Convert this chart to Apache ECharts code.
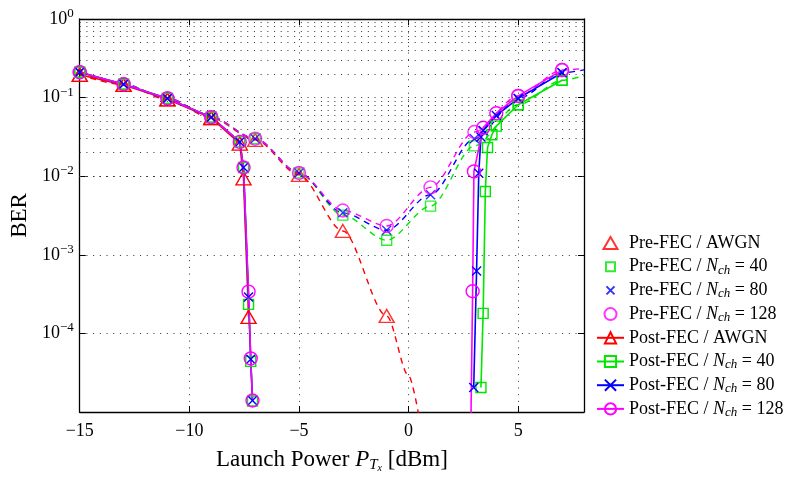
<!DOCTYPE html>
<html>
<head>
<meta charset="utf-8">
<script src="https://cdn.jsdelivr.net/npm/echarts@6/dist/echarts.min.js"></script>
<style>
  html, body { margin: 0; padding: 0; background: #fff; }
  #chart { width: 787px; height: 478px; }
</style>
</head>
<body>
<div id="chart"></div>
<script>
// ---- measured BER values ----
// Pre-FEC samples (markers) at these launch powers [dBm]
const preX    = [-15, -13, -11, -9, -7, -5, -3, -1, 1, 3, 5, 7];
const preAwgn = [0.195, 0.145, 0.095, 0.055, 0.029, 0.0104, 0.00201, 0.000167];
const pre40   = [0.21, 0.148, 0.0977, 0.0564, 0.030, 0.011, 0.0032, 0.00153, 0.00416, 0.0243, 0.081, 0.166];
const pre80   = [0.21, 0.148, 0.0977, 0.0564, 0.030, 0.011, 0.00342, 0.00205, 0.00582, 0.030, 0.0977, 0.207];
const pre128  = [0.21, 0.148, 0.0977, 0.0564, 0.030, 0.011, 0.00366, 0.00233, 0.00721, 0.0365, 0.105, 0.224];

// analytical pre-FEC curves continue past the last sample
const fitAwgnTailX = [0, 0.5];
const fitAwgnTail  = [2.9e-5, 8e-6];
const fitTailX     = [8];
const fit40Tail    = [0.19];
const fit80Tail    = [0.225];
const fit128Tail   = [0.235];

// Post-FEC: low-power waterfall and high-power waterfall
const postAwgnX = [-15, -13, -11, -9, -7.7, -7.53, -7.3];
const postAwgn  = [0.195, 0.145, 0.095, 0.055, 0.026, 0.0094, 0.000162];

const postLowX  = [-15, -13, -11, -9, -7.7, -7.53, -7.3, -7.2, -7.12];
const post40Low = [0.21, 0.148, 0.0977, 0.0564, 0.0273, 0.0129, 0.000234, 4.4e-5, 1.38e-5];
const post80Low = [0.21, 0.148, 0.0977, 0.0564, 0.0273, 0.0129, 0.00029, 4.7e-5, 1.4e-5];
const post128Low = [0.21, 0.148, 0.0977, 0.0564, 0.0273, 0.0129, 0.00034, 4.8e-5, 1.4e-5];

const post40HighX  = [3.3, 3.4, 3.5, 3.6, 3.8, 4, 5, 7];
const post40High   = [2.05e-5, 0.00018, 0.0064, 0.0232, 0.0337, 0.0434, 0.081, 0.166];
const post80HighX  = [2.97, 3.1, 3.2, 3.3, 3.4, 4, 5, 7];
const post80High   = [2.05e-5, 0.00062, 0.0109, 0.0316, 0.0382, 0.059, 0.0977, 0.207];
const post128HighX = [2.8, 2.92, 2.98, 3.4, 4, 5, 7];
const post128High  = [1e-6, 0.000344, 0.0115, 0.0413, 0.0633, 0.105, 0.224];

// axis ticks
const xTicks = { min: -15, max: 8, interval: 5 };
const yRange = { min: 1e-5, max: 1 };
const minorMantissas = [2, 3, 4, 5, 6, 7, 8, 9];
const minorDecades = [-5, -4, -3, -2, -1];

// ---- styling ----
const FONT = '"Liberation Serif", "Times New Roman", serif';
const RED = '#ff0000', GREEN = '#00e600', BLUE = '#0000ff', MAGENTA = '#ff00ff';
const CROSS = 'path://M0,0L10,10M10,0L0,10';
const DOTS = [1, 5.7];

const pairs = (xs, ys) => xs.map((x, i) => [x, ys[i]]);
const GAP = [['-', '-']];

const minorGrid = [];
minorDecades.forEach(d => minorMantissas.forEach(m => minorGrid.push({ yAxis: m * Math.pow(10, d) })));

function fitLine(color, data) {
  return {
    type: 'line', data, smooth: 0.3, smoothMonotone: 'x',
    symbol: 'none', silent: true, z: 2,
    lineStyle: { color, width: 1.4, type: [6, 5] },
    emphasis: { disabled: true }
  };
}
function markers(name, color, symbol, size, data) {
  return {
    name, type: 'scatter', data, symbol, symbolSize: size, z: 3,
    itemStyle: { color: 'transparent', borderColor: color, borderWidth: 1.4 },
    emphasis: { disabled: true }
  };
}
function curve(name, color, symbol, size, data) {
  return {
    name, type: 'line', data, symbol, symbolSize: size, showAllSymbol: true, z: 4,
    lineStyle: { color, width: 1.6 },
    itemStyle: { color: 'transparent', borderColor: color, borderWidth: 1.4 },
    emphasis: { disabled: true }
  };
}

const series = [
  {
    name: 'minor-grid', type: 'line', data: [], silent: true, z: 1,
    markLine: {
      silent: true, symbol: ['none', 'none'], label: { show: false },
      lineStyle: { color: '#333', width: 1, type: DOTS },
      emphasis: { disabled: true }, animation: false,
      data: minorGrid
    }
  },
  fitLine(RED, pairs(preX.slice(0, preAwgn.length), preAwgn).concat(pairs(fitAwgnTailX, fitAwgnTail))),
  fitLine(GREEN, pairs(preX, pre40).concat(pairs(fitTailX, fit40Tail))),
  fitLine(BLUE, pairs(preX, pre80).concat(pairs(fitTailX, fit80Tail))),
  fitLine(MAGENTA, pairs(preX, pre128).concat(pairs(fitTailX, fit128Tail))),

  markers('Pre-FEC / AWGN', RED, 'triangle', [15, 13], pairs(preX.slice(0, preAwgn.length), preAwgn)),
  markers('Pre-FEC / N_ch = 40', GREEN, 'rect', 10, pairs(preX, pre40)),
  markers('Pre-FEC / N_ch = 80', BLUE, CROSS, 9, pairs(preX, pre80)),
  markers('Pre-FEC / N_ch = 128', MAGENTA, 'circle', 13, pairs(preX, pre128)),

  curve('Post-FEC / AWGN', RED, 'triangle', [15, 13], pairs(postAwgnX, postAwgn)),
  curve('Post-FEC / N_ch = 40', GREEN, 'rect', 10,
        pairs(postLowX, post40Low).concat(GAP, pairs(post40HighX, post40High))),
  curve('Post-FEC / N_ch = 80', BLUE, CROSS, 9,
        pairs(postLowX, post80Low).concat(GAP, pairs(post80HighX, post80High))),
  curve('Post-FEC / N_ch = 128', MAGENTA, 'circle', 13,
        pairs(postLowX, post128Low).concat(GAP, pairs(post128HighX, post128High)))
];

const axisLine = { show: true, onZero: false, lineStyle: { color: '#000', width: 1.3 } };
const axisTick = { show: true, inside: true, length: 6, lineStyle: { color: '#000', width: 1 } };
const dotted = { show: true, lineStyle: { color: '#333', width: 1, type: DOTS } };
const minus = v => String(v).replace('-', '\u2212');

const option = {
  animation: false,
  backgroundColor: '#fff',
  grid: { left: 79, top: 19, right: 203, bottom: 62 },
  xAxis: [
    {
      type: 'value', min: xTicks.min, max: xTicks.max, interval: xTicks.interval,
      axisLine, axisTick, splitLine: dotted,
      axisLabel: { showMaxLabel: false, margin: 10, color: '#000', fontFamily: FONT, fontSize: 18, formatter: minus },
      name: 'Launch Power {i|P}{sub|T}{ss|x} [dBm]', nameLocation: 'middle', nameGap: 35,
      nameTextStyle: {
        fontFamily: FONT, fontSize: 23, color: '#000', lineHeight: 26,
        rich: {
          i:   { fontFamily: FONT, fontSize: 23, fontStyle: 'italic', color: '#000', lineHeight: 26 },
          sub: { fontFamily: FONT, fontSize: 15, fontStyle: 'italic', color: '#000', lineHeight: 15, verticalAlign: 'bottom' },
          ss:  { fontFamily: FONT, fontSize: 10, fontStyle: 'italic', color: '#000', lineHeight: 9, verticalAlign: 'bottom' }
        }
      }
    },
    {
      type: 'value', position: 'top', min: xTicks.min, max: xTicks.max, interval: xTicks.interval,
      axisLine, axisTick, axisLabel: { show: false }, splitLine: { show: false }
    }
  ],
  yAxis: [
    {
      type: 'log', logBase: 10, min: yRange.min, max: yRange.max,
      axisLine, axisTick, splitLine: dotted,
      axisLabel: {
        showMinLabel: false, margin: 6, color: '#000', fontFamily: FONT, fontSize: 18,
        formatter: v => '{b|10}{s|' + minus(Math.round(Math.log10(v))) + '}',
        rich: {
          b: { fontFamily: FONT, fontSize: 18, color: '#000', lineHeight: 24 },
          s: { fontFamily: FONT, fontSize: 13, color: '#000', lineHeight: 13, verticalAlign: 'top' }
        }
      },
      name: 'BER', nameLocation: 'middle', nameGap: 45,
      nameTextStyle: { fontFamily: FONT, fontSize: 23, color: '#000' }
    },
    {
      type: 'log', logBase: 10, min: yRange.min, max: yRange.max, position: 'right',
      axisLine, axisTick, axisLabel: { show: false }, splitLine: { show: false }
    }
  ],
  legend: {
    orient: 'vertical', left: 591, top: 228,
    itemWidth: 27, itemHeight: 14, itemGap: 3.7,
    selectedMode: false,
    data: [
      { name: 'Pre-FEC / AWGN', icon: 'path://M0,0M14,14M7,1L14,13L0,13Z' },
      { name: 'Pre-FEC / N_ch = 40', icon: 'path://M0,0M14,14M2.5,2.5L11.5,2.5L11.5,11.5L2.5,11.5Z' },
      { name: 'Pre-FEC / N_ch = 80', icon: 'path://M0,0M14,14M3,3L11,11M11,3L3,11' },
      { name: 'Pre-FEC / N_ch = 128', icon: 'path://M0,0M14,14M13,7A6,6,0,1,1,1,7A6,6,0,1,1,13,7Z' },
      'Post-FEC / AWGN', 'Post-FEC / N_ch = 40', 'Post-FEC / N_ch = 80', 'Post-FEC / N_ch = 128'
    ],
    formatter: name => name.replace('N_ch', '{i|N}{sub|ch}'),
    textStyle: {
      fontFamily: FONT, fontSize: 18, color: '#000', lineHeight: 20,
      rich: {
        i:   { fontFamily: FONT, fontSize: 18, fontStyle: 'italic', color: '#000', lineHeight: 20 },
        sub: { fontFamily: FONT, fontSize: 13, fontStyle: 'italic', color: '#000', lineHeight: 12, verticalAlign: 'bottom' }
      }
    }
  },
  series
};

const chart = echarts.init(document.getElementById('chart'), null, { renderer: 'canvas' });
chart.setOption(option);
</script>
</body>
</html>
